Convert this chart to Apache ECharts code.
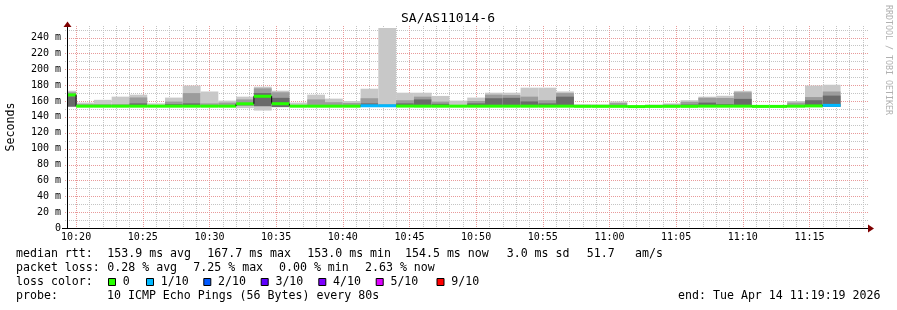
<!DOCTYPE html>
<html><head><meta charset="utf-8">
<script src="https://cdn.jsdelivr.net/npm/echarts@6/dist/echarts.min.js"></script>
<style>html,body{margin:0;padding:0;background:#fff}#c{width:897px;height:310px}</style>
</head><body><div id="c"></div>
<script>
// ---------- data ----------
const chartTitle = 'SA/AS11014-6';
const viewStart = 1159;          // seconds after 10:00:00 (10:19:19)
const viewEnd = 4759;            // 11:19:19
const firstStepEnd = 1200;       // 10:20:00
const stepSeconds = 80;
const yMax = 252;

// smoke (ms) per 80 s step
const smokeHi   = [173,158,161.5,165.5,168,157,164.3,179.5,172,160.5,165.5,178,173,158,168,163,160,175.5,252,170.5,170.5,166.4,160.5,164.3,170.5,170.5,176.8,176.8,172,156,155.8,159.5,153.5,155.5,157,161,165.5,166.6,172.8,153.3,153.3,160,179.5,180.5];
const smokeMid  = [171,156,156,156,164.5,155,159.3,170,157,158,162,176,171,155,162,158.5,157.5,163.5,156,161,165.5,159.3,155,160,168,167.5,165.5,161,170,154.5,154.5,157.5,153.5,154.5,155.5,159,164,163.8,171,153.3,153.3,158,165,172];
const smokeDark = [166,154.5,154.5,154.5,157,154,156,157,154.5,155,156,170,164,154,155,155,155,157,154.5,157,162,156.5,154,157,163.5,164,159.5,157,165.5,154,154,155,153.5,154,154.5,155.5,158,156,162.7,153.3,153.3,155,161,166.8];
const smokeInnerLo = [153,152.8,152.8,152.8,152.8,152.8,152.8,152.8,152.8,152.8,154.5,153.5,152.5,152.8,152.8,152.8,152.8,152.8,152.8,152.8,152.8,152.8,152.8,152.8,152.8,152.8,152.8,152.8,152.8,152.8,152.8,152.8,153,152.8,152.8,152.8,152.8,152.8,152.8,153,153,152.8,152.8,152.8];
const smokeLo   = [153,152.8,152.8,152.8,152.8,152.8,152.8,152.8,152.8,152.8,151,148,152,152.8,152.8,152.8,152.8,152.8,152.8,152.8,152.8,152.8,152.8,152.8,152.8,152.8,152.8,152.8,152.8,152.8,152.8,152.8,153,152.8,152.8,152.8,152.8,152.8,152.8,153,153,152.8,152.8,152.8];
const medianRtt = [167.7,153.5,153.5,153.5,153.5,153.5,153.5,153.5,153.5,153.5,156.5,166,156.6,153.5,153.5,153.5,153.5,154,154,153.6,153.5,153.5,153.5,153.5,153.5,153.5,153.5,153.5,153.5,153.3,153.3,153.3,153.0,153.2,153.3,153.3,153.5,153.5,153.5,153.2,153.2,153.5,153.8,154.5];
const lossTenths = [0,0,0,0,0,0,0,0,0,0,0,0,0,0,0,0,0,1,1,0,0,0,0,0,0,0,0,0,0,0,0,0,0,0,0,0,0,0,0,0,0,0,0,1];

const xTickLabels = ['10:20','10:25','10:30','10:35','10:40','10:45','10:50','10:55','11:00','11:05','11:10','11:15'];
const yMajorTicks = [0,20,40,60,80,100,120,140,160,180,200,220,240];
const yMinorTicks = [10,30,50,70,90,110,130,150,170,190,210,230,250];

const lossLegendLabels = ['0','1/10','2/10','3/10','4/10','5/10','9/10'];
const lossLegendColors = ['#26ff00','#00b8ff','#0059ff','#5e00ff','#7e00ff','#dd00ff','#ff0000'];
const lossClassColor = {0:'#26ff00',1:'#00b8ff',2:'#0059ff',3:'#5e00ff',4:'#7e00ff',5:'#dd00ff',9:'#ff0000'};

const legendLine1 = ['median rtt:','153.9 ms avg','167.7 ms max','153.0 ms min','154.5 ms now','3.0 ms sd','51.7','am/s'];
const legendLine2 = ['packet loss:','0.28 % avg','7.25 % max','0.00 % min','2.63 % now'];
const legendLine4 = ['probe:','10 ICMP Echo Pings (56 Bytes) every 80s'];
const endText = 'end: Tue Apr 14 11:19:19 2026';

// ---------- derived ----------
const toSec = s => { const [h,m] = s.split(':').map(Number); return h*3600 + m*60 - 36000; };
const xMajorTicks = xTickLabels.map(toSec);
const xMinorTicks = [];
for (let t = firstStepEnd; t < viewEnd; t += 60) if ((t - firstStepEnd) % 300 !== 0) xMinorTicks.push(t);
const fmtTime = v => { const tot = 36000 + v; const h = Math.floor(tot/3600); const m = Math.round((tot - h*3600)/60); return h + ':' + String(m).padStart(2,'0'); };

const stepStart = i => firstStepEnd + stepSeconds*(i-1);
const smokeData = smokeHi.map((hi,i) => [stepStart(i), stepStart(i)+stepSeconds, smokeLo[i], smokeInnerLo[i], smokeDark[i], smokeMid[i], hi]);
const medianData = medianRtt.map((m,i) => [stepStart(i), stepStart(i)+stepSeconds, m, i>0 ? medianRtt[i-1] : m, lossTenths[i]]);
// grid lines: [value, isHorizontal, isMajor]
const gridData = [].concat(
  xMinorTicks.map(v => [v,0,0]), yMinorTicks.map(v => [v,1,0]),
  xMajorTicks.map(v => [v,0,1]), yMajorTicks.filter(v => v > 0).map(v => [v,1,1])
);

const MONO = 'DejaVu Sans Mono';
const MAJ = '#e89a9a', MIN = '#c4c4c4';

function renderSmoke(params, api) {
  const t0 = api.value(0), t1 = api.value(1);
  const lo = api.value(2), innerLo = api.value(3);
  const band = (top, bot, color) => {
    const a = api.coord([t0, top]), b = api.coord([t1, bot]);
    return {type:'rect', shape:{x:a[0], y:a[1], width:b[0]-a[0], height:b[1]-a[1]}, style:{fill:color}};
  };
  return {type:'group', children:[
    band(api.value(6), lo, '#c8c8c8'),
    band(api.value(5), innerLo, '#9c9c9c'),
    band(api.value(4), innerLo, '#6a6a6a')]};
}
function renderMedian(params, api) {
  const t0 = api.value(0), t1 = api.value(1), m = api.value(2), prev = api.value(3), loss = api.value(4);
  const a = api.coord([t0, m]), b = api.coord([t1, m]), p = api.coord([t0, prev]);
  const children = [];
  if (Math.abs(prev - m) > 0.01) children.push({type:'line', shape:{x1:a[0], y1:p[1], x2:a[0], y2:a[1]}, style:{stroke:'#000', lineWidth:1}});
  children.push({type:'line', shape:{x1:a[0], y1:a[1], x2:b[0], y2:b[1]}, style:{stroke:lossClassColor[loss], lineWidth:3}});
  return {type:'group', children};
}
function renderGrid(params, api) {
  const v = api.value(0), horiz = api.value(1), major = api.value(2);
  const cs = params.coordSys;
  const style = {stroke: major ? MAJ : MIN, lineWidth:1, lineDash:[1,1]};
  if (horiz) {
    const y = Math.round(api.coord([viewStart, v])[1]) + 0.5;
    return {type:'line', shape:{x1:cs.x-2, y1:y, x2:cs.x+cs.width+2, y2:y}, style};
  }
  const x = Math.round(api.coord([v, 0])[0]) + 0.5;
  return {type:'line', shape:{x1:x, y1:cs.y-2, x2:x, y2:cs.y+cs.height+2}, style};
}

const txt = (text, x, y, opts={}) => ({type:'text', x, y, silent:true, style:Object.assign({text, fontFamily:MONO, fontSize:11.6, fill:'#000', verticalAlign:'middle', align:'left'}, opts)});

const graphics = [
  txt(chartTitle, 448, 19, {fontSize:13, align:'center'}),
  {type:'text', x:11, y:127, rotation:Math.PI/2, silent:true, style:{text:'Seconds', fontFamily:MONO, fontSize:11.6, fill:'#000', align:'center', verticalAlign:'middle'}},
  {type:'text', x:888, y:60, rotation:-Math.PI/2, silent:true, style:{text:'RRDTOOL / TOBI OETIKER', fontFamily:MONO, fontSize:8.3, fill:'#b0b0b0', align:'center', verticalAlign:'middle'}},
  {type:'line', silent:true, z:10, shape:{x1:867, y1:228.5, x2:869, y2:228.5}, style:{stroke:'#000', lineWidth:1}},
  {type:'line', silent:true, z:10, shape:{x1:62, y1:228.5, x2:67, y2:228.5}, style:{stroke:'#000', lineWidth:1}},
  {type:'line', silent:true, z:10, shape:{x1:67.5, y1:28, x2:67.5, y2:25}, style:{stroke:'#000', lineWidth:1}},
  {type:'polygon', silent:true, z:10, shape:{points:[[868,224.5],[874,228.5],[868,232.5]]}, style:{fill:'#7f0000'}},
  {type:'polygon', silent:true, z:10, shape:{points:[[63.5,27],[67.5,21.5],[71.5,27]]}, style:{fill:'#7f0000'}}
];
[16,107.3,207.3,307.3,405,506.7,586.7,635].forEach((x,i)=>graphics.push(txt(legendLine1[i], x, 254)));
[16,107.3,193.3,279,365].forEach((x,i)=>graphics.push(txt(legendLine2[i], x, 268.3)));
graphics.push(txt('loss color:', 16, 282.3));
[108,146,203.3,260.7,318.3,375.7,436.5].forEach((bx,i)=>{
  graphics.push({type:'rect', silent:true, shape:{x:bx+0.5, y:278.5, width:7, height:7}, style:{fill:lossLegendColors[i], stroke:'#000', lineWidth:1}});
  graphics.push(txt(lossLegendLabels[i], bx+14.7, 282.3));
});
[16,107].forEach((x,i)=>graphics.push(txt(legendLine4[i], x, 296.3)));
graphics.push(txt(endText, 880.5, 296.3, {align:'right'}));

const chart = echarts.init(document.getElementById('c'), null, {renderer:'canvas'});
chart.setOption({
  animation:false,
  backgroundColor:'#fff',
  grid:{left:67, right:30, top:28, bottom:82, containLabel:false},
  xAxis:{type:'value', min:viewStart, max:viewEnd, position:'bottom', z:5,
     axisLine:{show:true, onZero:false, lineStyle:{color:'#000', width:1}},
     axisTick:{show:false, customValues:xMajorTicks},
     axisLabel:{customValues:xMajorTicks, formatter:fmtTime, fontFamily:MONO, fontSize:10, color:'#000', margin:4},
     splitLine:{show:false}},
  yAxis:{type:'value', min:0, max:yMax, position:'left', z:5,
     axisLine:{show:true, onZero:false, lineStyle:{color:'#000', width:1}},
     axisTick:{show:false, customValues:yMajorTicks},
     axisLabel:{customValues:yMajorTicks, formatter:v => v === 0 ? '0' : v + ' m', fontFamily:MONO, fontSize:10, color:'#000', margin:6},
     splitLine:{show:false}},
  series:[
    {type:'custom', name:'grid', clip:false, silent:true, z:1,
     renderItem:renderGrid, data:gridData},
    {type:'custom', name:'smoke', clip:true, silent:true, z:2,
     renderItem:renderSmoke, data:smokeData, encode:{x:[0,1], y:[2,3,4,5,6]}},
    {type:'custom', name:'median', clip:true, silent:true, z:4,
     renderItem:renderMedian, data:medianData, encode:{x:[0,1], y:[2,3]}}
  ],
  graphic:graphics
});
</script></body></html>
